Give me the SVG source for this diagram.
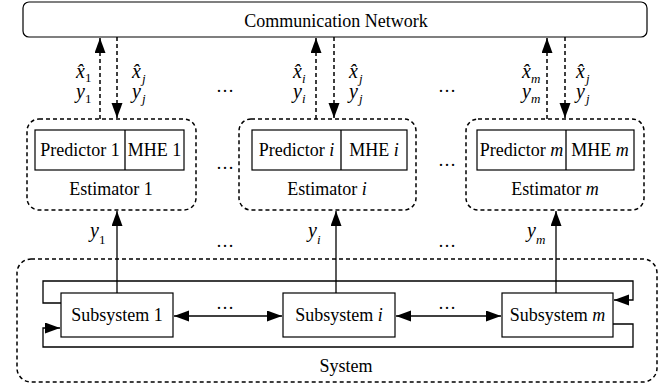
<svg xmlns="http://www.w3.org/2000/svg" width="668" height="388" viewBox="0 0 668 388">
<style>
.t{font-family:'Liberation Serif','Times New Roman',serif;font-size:18px;fill:#000}
.c{text-anchor:middle}
.i{font-style:italic}
.m{font-family:'Liberation Serif','Times New Roman',serif;font-style:italic;font-size:20px;fill:#000}
.s{font-family:'Liberation Serif','Times New Roman',serif;font-size:13px;fill:#000}
.dash{fill:none;stroke:#000;stroke-width:1.5;stroke-dasharray:4 3}
.ln{fill:none;stroke:#000;stroke-width:1.3}
.box{fill:#fff;stroke:#000;stroke-width:1.2}
.dots{font-family:'Liberation Serif','Times New Roman',serif;font-size:18px;fill:#000;text-anchor:middle}
</style>
<defs>
<marker id="ah" markerUnits="userSpaceOnUse" markerWidth="16" markerHeight="12" refX="15" refY="5.5" orient="auto">
<path d="M0,0 L15,5.5 L0,11 z" fill="#000"/>
</marker>
</defs>
<rect width="668" height="388" fill="#fff"/>

<g id="network">
<rect x="23" y="2" width="624" height="35" rx="6" class="box"/>
<text x="336" y="27" class="t c">Communication Network</text>
</g>

<g id="estimator1">
<rect x="27" y="119" width="169" height="91" rx="12" class="dash"/>
<rect x="35" y="130" width="149" height="40" class="box"/>
<line x1="125" y1="130" x2="125" y2="170" class="ln"/>
<text x="80" y="156" class="t c">Predictor 1</text>
<text x="154.5" y="156" class="t c">MHE 1</text>
<text x="111" y="195" class="t c">Estimator 1</text>
</g>

<g id="estimatori">
<rect x="239" y="119" width="177" height="91" rx="12" class="dash"/>
<rect x="252" y="130" width="155" height="40" class="box"/>
<line x1="341" y1="130" x2="341" y2="170" class="ln"/>
<text x="296.5" y="156" class="t c">Predictor <tspan class="i">i</tspan></text>
<text x="374" y="156" class="t c">MHE <tspan class="i">i</tspan></text>
<text x="327" y="195" class="t c">Estimator <tspan class="i">i</tspan></text>
</g>

<g id="estimatorm">
<rect x="466" y="119" width="178" height="91" rx="12" class="dash"/>
<rect x="477" y="130" width="157" height="40" class="box"/>
<line x1="566" y1="130" x2="566" y2="170" class="ln"/>
<text x="521.5" y="156" class="t c">Predictor <tspan class="i">m</tspan></text>
<text x="600" y="156" class="t c">MHE <tspan class="i">m</tspan></text>
<text x="555" y="195" class="t c">Estimator <tspan class="i">m</tspan></text>
</g>

<g id="system">
<rect x="17" y="259" width="640" height="123" rx="14" class="dash"/>
<text x="346" y="372" class="t c">System</text>
</g>

<g id="subsystem1">
<rect x="61" y="293" width="112" height="44" class="box"/>
<text x="117" y="321" class="t c">Subsystem 1</text>
</g>
<g id="subsystemi">
<rect x="283" y="293" width="112" height="44" class="box"/>
<text x="339" y="321" class="t c">Subsystem <tspan class="i">i</tspan></text>
</g>
<g id="subsystemm">
<rect x="502" y="293" width="111" height="44" class="box"/>
<text x="557.5" y="321" class="t c">Subsystem <tspan class="i">m</tspan></text>
</g>

<g id="connectors">
<line x1="100" y1="119" x2="100" y2="38" class="dash" marker-end="url(#ah)"/>
<line x1="117" y1="37" x2="117" y2="118" class="dash" marker-end="url(#ah)"/>
<line x1="316" y1="119" x2="316" y2="38" class="dash" marker-end="url(#ah)"/>
<line x1="334" y1="37" x2="334" y2="118" class="dash" marker-end="url(#ah)"/>
<line x1="547" y1="119" x2="547" y2="38" class="dash" marker-end="url(#ah)"/>
<line x1="565" y1="37" x2="565" y2="118" class="dash" marker-end="url(#ah)"/>
<line x1="117" y1="293" x2="117" y2="211" class="ln" marker-end="url(#ah)"/>
<line x1="336" y1="293" x2="336" y2="211" class="ln" marker-end="url(#ah)"/>
<line x1="556" y1="293" x2="556" y2="211" class="ln" marker-end="url(#ah)"/>
<line x1="228" y1="316" x2="174" y2="316" class="ln" marker-end="url(#ah)"/>
<line x1="228" y1="316" x2="282" y2="316" class="ln" marker-end="url(#ah)"/>
<line x1="448" y1="316" x2="396" y2="316" class="ln" marker-end="url(#ah)"/>
<line x1="448" y1="316" x2="501" y2="316" class="ln" marker-end="url(#ah)"/>
<polyline points="61,303 43,303 43,281 633,281 633,300 614,300" class="ln" marker-end="url(#ah)"/>
<polyline points="613,324 633,324 633,347 43,347 43,328 60,328" class="ln" marker-end="url(#ah)"/>
</g>

<g id="labels">
<text x="76" y="78" class="m">x̂<tspan class="s" font-style="normal" dy="4">1</tspan></text>
<text x="76" y="98" class="m">y<tspan class="s" font-style="normal" dy="5">1</tspan></text>
<text x="132" y="78" class="m">x̂<tspan class="s" dx="1" dy="5">j</tspan></text>
<text x="132" y="98" class="m">y<tspan class="s" dx="1" dy="5">j</tspan></text>

<text x="293" y="78" class="m">x̂<tspan class="s" dy="5">i</tspan></text>
<text x="293" y="98" class="m">y<tspan class="s" dy="5">i</tspan></text>
<text x="349" y="78" class="m">x̂<tspan class="s" dx="1" dy="5">j</tspan></text>
<text x="349" y="98" class="m">y<tspan class="s" dx="1" dy="5">j</tspan></text>

<text x="522" y="78" class="m">x̂<tspan class="s" dy="5">m</tspan></text>
<text x="522" y="98" class="m">y<tspan class="s" dy="5">m</tspan></text>
<text x="576" y="78" class="m">x̂<tspan class="s" dx="1" dy="5">j</tspan></text>
<text x="576" y="98" class="m">y<tspan class="s" dx="1" dy="5">j</tspan></text>

<text x="90" y="237" class="m">y<tspan class="s" font-style="normal" dy="7">1</tspan></text>
<text x="308" y="237" class="m">y<tspan class="s" dy="7">i</tspan></text>
<text x="527" y="237" class="m">y<tspan class="s" dy="7">m</tspan></text>

<text x="225" y="92" class="dots">…</text>
<text x="225" y="169" class="dots">…</text>
<text x="225" y="247" class="dots">…</text>
<text x="225" y="309" class="dots">…</text>
<text x="447" y="92" class="dots">…</text>
<text x="447" y="166" class="dots">…</text>
<text x="447" y="247" class="dots">…</text>
<text x="447" y="309" class="dots">…</text>
</g>
</svg>
